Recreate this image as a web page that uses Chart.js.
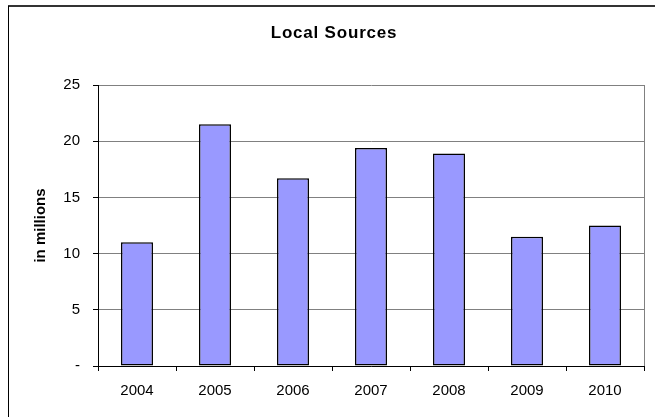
<!DOCTYPE html>
<html>
<head>
<meta charset="utf-8">
<script src="https://cdn.jsdelivr.net/npm/chart.js@4/dist/chart.umd.min.js"></script>
<style>
  html, body { margin: 0; padding: 0; background: #fff; }
  #wrap { width: 655px; height: 417px; }
</style>
</head>
<body>
<div id="wrap"><canvas id="myChart" width="655" height="417"></canvas></div>
<script>
// Local Sources chart
const years = ["2004", "2005", "2006", "2007", "2008", "2009", "2010"];
const amounts = [11.0, 21.5, 16.7, 19.4, 18.9, 11.5, 12.5];
const yTicks = [0, 5, 10, 15, 20, 25];
const chartTitle = "Local Sources";
const axisTitle = "in millions";

const ctx = document.getElementById("myChart").getContext("2d");

// frame, title and plot right border
const decor = {
  id: "decor",
  beforeDraw(chart) {
    const c = chart.ctx;
    c.save();
    c.fillStyle = "#fff";
    c.fillRect(0, 0, chart.width, chart.height);
    c.strokeStyle = "#333";
    c.lineWidth = 2;
    c.beginPath();
    c.moveTo(8, 6);
    c.lineTo(chart.width, 6);
    c.stroke();
    c.strokeStyle = "#000";
    c.lineWidth = 1;
    c.beginPath();
    c.moveTo(8.5, 6);
    c.lineTo(8.5, chart.height);
    c.stroke();

    c.fillStyle = "#000";
    c.font = "bold 17px Arial, 'Liberation Sans', sans-serif";
    c.letterSpacing = "0.8px";
    c.textAlign = "center";
    c.textBaseline = "middle";
    c.fillText(chartTitle, 334, 33);
    c.restore();
  },
  afterDraw(chart) {
    const c = chart.ctx;
    const area = chart.chartArea;
    c.save();
    c.strokeStyle = "#808080";
    c.lineWidth = 1;
    c.beginPath();
    c.moveTo(Math.round(area.right) + 0.5, area.top);
    c.lineTo(Math.round(area.right) + 0.5, area.bottom);
    c.stroke();
    c.restore();
  },
};

const config = {
  type: "bar",
  data: {
    labels: years,
    datasets: [
      {
        data: amounts,
        backgroundColor: "#9999FF",
        borderColor: "#000",
        borderWidth: 1.5,
        borderSkipped: false,
        categoryPercentage: 1,
        barPercentage: 0.41,
      },
    ],
  },
  options: {
    responsive: false,
    animation: false,
    layout: { padding: { top: 85, right: 11, left: 0, bottom: 0 } },
    plugins: {
      legend: { display: false },
      title: { display: false },
      tooltip: { enabled: false },
    },
    scales: {
      x: {
        afterFit: (scale) => { scale.height = 51; },
        grid: {
          drawOnChartArea: false,
          drawTicks: true,
          tickLength: 5,
          color: "#000",
        },
        border: { color: "#000", width: 1 },
        ticks: {
          color: "#000",
          padding: 11,
          font: { family: "Arial, 'Liberation Sans', sans-serif", size: 15 },
        },
      },
      y: {
        min: 0,
        max: 25,
        afterFit: (scale) => { scale.width = 98; },
        afterBuildTicks: (scale) => {
          scale.ticks = yTicks.map((v) => ({ value: v }));
        },
        grid: {
          color: "#808080",
          tickColor: "#000",
          tickLength: 5,
        },
        border: { color: "#000", width: 1 },
        ticks: {
          color: "#000",
          padding: 13,
          font: { family: "Arial, 'Liberation Sans', sans-serif", size: 15 },
          callback: function (value) {
            return value === 0 ? "-" : value;
          },
        },
        title: {
          display: true,
          text: axisTitle,
          color: "#000",
          padding: { top: 32, bottom: 0 },
          font: { family: "Arial, 'Liberation Sans', sans-serif", size: 15, weight: "bold" },
        },
      },
    },
  },
  plugins: [decor],
};

const myChart = new Chart(ctx, config);
</script>
</body>
</html>
